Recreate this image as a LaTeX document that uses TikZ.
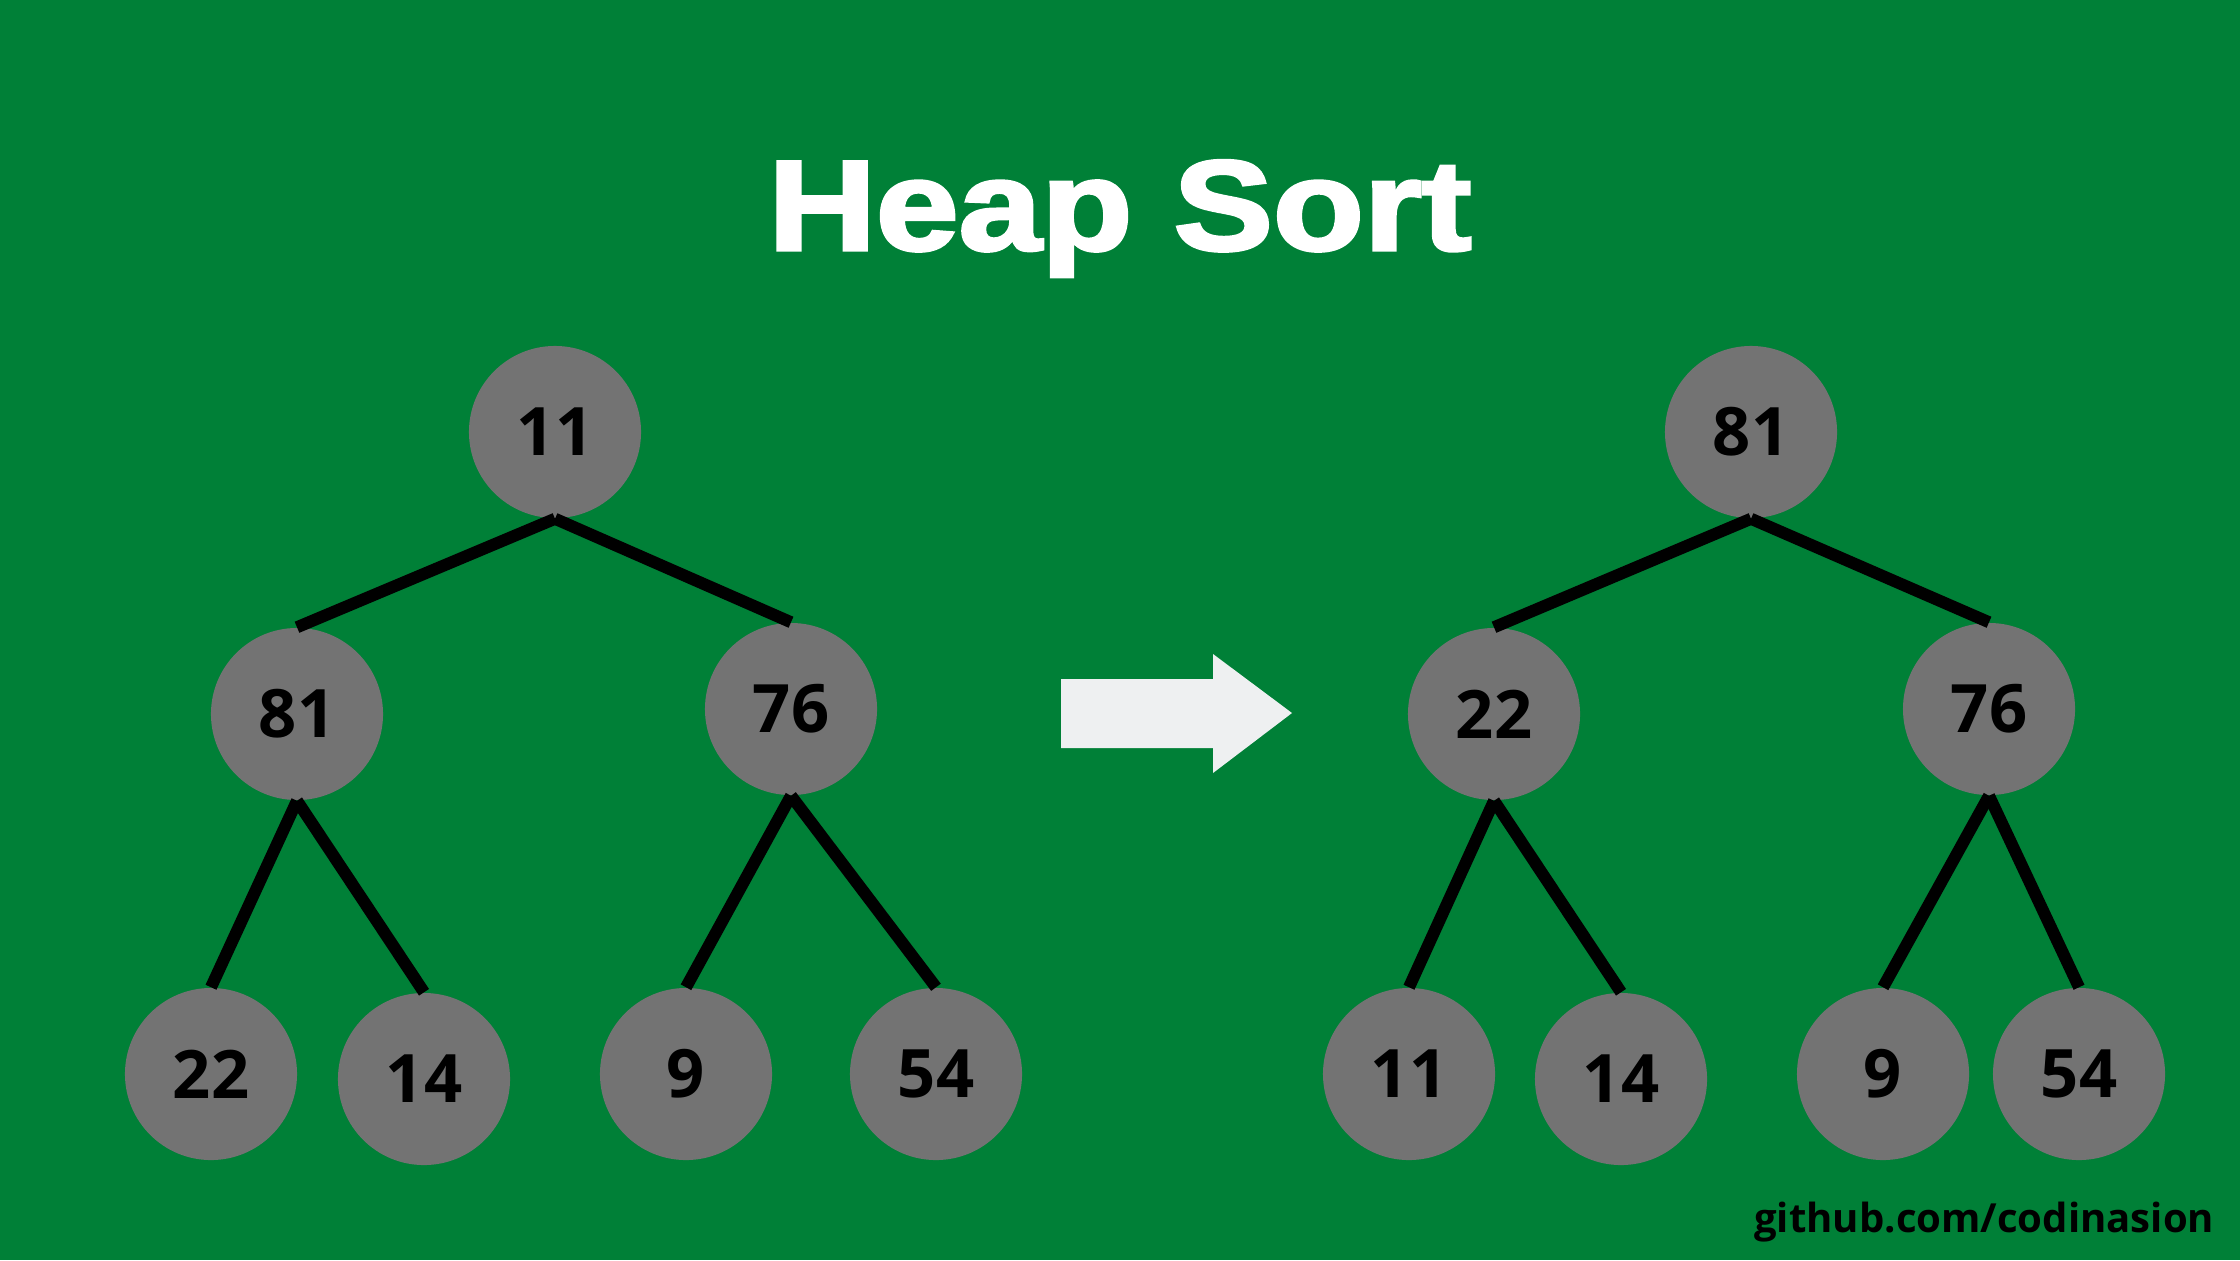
\documentclass[tikz,border=0pt]{standalone}
\usepackage{fontspec}
\setmainfont{Open Sans}
\newfontfamily\titlefont{Liberation Sans}[BoldFeatures={FakeBold=2.5}]
\definecolor{bggreen}{HTML}{008037}
\definecolor{nodegray}{HTML}{737373}
\definecolor{arrowgray}{HTML}{EEF0F1}
\tikzset{
  heapnode/.style={circle, fill=nodegray, minimum size=1.72cm, inner sep=0pt,
    font=\fontsize{19}{19}\selectfont\bfseries, text=black},
  heapedge/.style={line width=0.12cm, draw=black},
}
\begin{document}
\begin{tikzpicture}[x=0.01cm,y=-0.01cm]
\fill[bggreen] (0,0) rectangle (2240,1260);
\useasboundingbox (0,0) rectangle (2240,1260);

\node[anchor=base, inner sep=0pt, text=white] (title) at (1120,250)
  {\scalebox{1.16}[1]{\titlefont\fontsize{36.5}{36.5}\selectfont\bfseries Heap Sort}};

% left tree
\node[heapnode] (a1) at (555,432) {11};
\node[heapnode] (a2) at (297,714) {81};
\node[heapnode] (a3) at (791,709) {76};
\node[heapnode] (a4) at (211,1074) {22};
\node[heapnode] (a5) at (424,1079) {14};
\node[heapnode] (a6) at (686,1074) {9};
\node[heapnode] (a7) at (936,1074) {54};
\draw[heapedge] (a1.south) -- (a2.north);
\draw[heapedge] (a1.south) -- (a3.north);
\draw[heapedge] (a2.south) -- (a4.north);
\draw[heapedge] (a2.south) -- (a5.north);
\draw[heapedge] (a3.south) -- (a6.north);
\draw[heapedge] (a3.south) -- (a7.north);

% arrow
\fill[arrowgray] (1061,679) -- (1213,679) -- (1213,654) -- (1292,713)
  -- (1213,773) -- (1213,748) -- (1061,748) -- cycle;

% right tree
\node[heapnode] (b1) at (1751,432) {81};
\node[heapnode] (b2) at (1494,714) {22};
\node[heapnode] (b3) at (1989,709) {76};
\node[heapnode] (b4) at (1409,1074) {11};
\node[heapnode] (b5) at (1621,1079) {14};
\node[heapnode] (b6) at (1883,1074) {9};
\node[heapnode] (b7) at (2079,1074) {54};
\draw[heapedge] (b1.south) -- (b2.north);
\draw[heapedge] (b1.south) -- (b3.north);
\draw[heapedge] (b2.south) -- (b4.north);
\draw[heapedge] (b2.south) -- (b5.north);
\draw[heapedge] (b3.south) -- (b6.north);
\draw[heapedge] (b3.south) -- (b7.north);

\node[anchor=base east, inner sep=0pt, text=black,
  font=\fontsize{11.4}{11.4}\selectfont\bfseries] (footer) at (2215,1232) {github.com/codinasion};
\end{tikzpicture}
\end{document}
